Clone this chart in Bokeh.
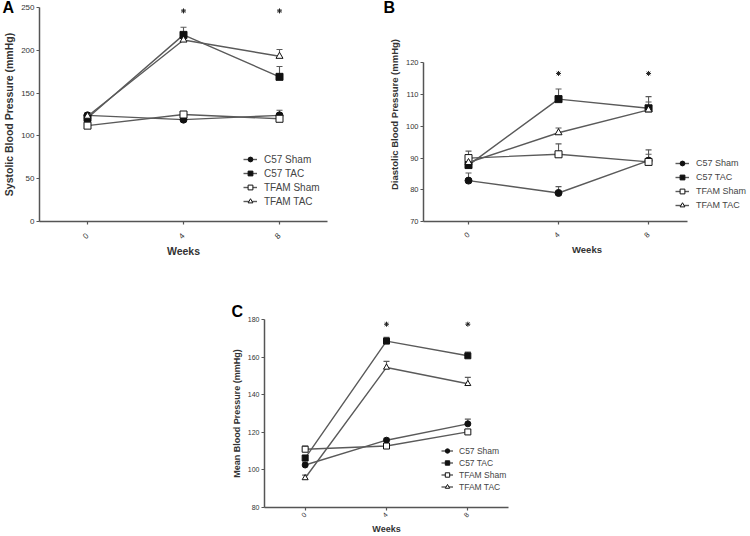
import numpy as np
from bokeh.plotting import figure
from bokeh.models import (ColumnDataSource, Whisker, TeeHead, Legend, LegendItem,
                          FixedTicker, Spacer)
from bokeh.layouts import row, column
from bokeh.embed import file_html
from bokeh.resources import INLINE

# ---------------- data ----------------
weeks = [0, 4, 8]
series_names = ["C57 Sham", "C57 TAC", "TFAM Sham", "TFAM TAC"]
sig_weeks = [4, 8]

# Panel A: systolic
sys_c57_sham = [124, 119, 124]
sys_c57_tac = [121, 218, 169]
sys_tfam_sham = [112, 125, 120]
sys_tfam_tac = [123, 212, 193]
sys_c57_sham_err = [3, 3, 6]
sys_c57_tac_err = [3, 9, 12]
sys_tfam_sham_err = [3, 3, 3]
sys_tfam_tac_err = [3, 4, 8]
sys_star = 246

# Panel B: diastolic
dia_c57_sham = [82.9, 79.0, 89.2]
dia_c57_tac = [87.8, 108.6, 105.7]
dia_tfam_sham = [90.0, 91.2, 88.8]
dia_tfam_tac = [88.6, 98.0, 105.2]
dia_c57_sham_err = [2.4, 2.0, 3.4]
dia_c57_tac_err = [1.5, 3.2, 3.7]
dia_tfam_sham_err = [2.2, 3.3, 2.4]
dia_tfam_tac_err = [1.5, 1.5, 2.5]
dia_star = 116.7

# Panel C: mean
mean_c57_sham = [102.6, 115.8, 124.5]
mean_c57_tac = [106.3, 168.5, 160.7]
mean_tfam_sham = [111.0, 112.7, 120.2]
mean_tfam_tac = [95.7, 154.5, 145.8]
mean_c57_sham_err = [1.5, 1.0, 2.5]
mean_c57_tac_err = [1.5, 2.0, 2.0]
mean_tfam_sham_err = [1.7, 1.0, 1.2]
mean_tfam_tac_err = [1.5, 3.2, 3.4]
mean_star = 177.5

sys_ticks = [0, 50, 100, 150, 200, 250]
dia_ticks = [70, 80, 90, 100, 110, 120]
mean_ticks = [80, 100, 120, 140, 160, 180]

# ---------------- styling ----------------
FONT = "Liberation Sans"
LINE = "#5a5a5a"
AXIS = "#555555"
TEXT = "#333333"
MARK = "#111111"
styles = [
    dict(marker="circle", fill=MARK),
    dict(marker="square", fill=MARK),
    dict(marker="square", fill="white"),
    dict(marker="triangle", fill="white"),
]


def panel(width, height, borders, xr, xb, yr, yb, yticks, ylabel, means, errs, star_y,
          tick_fs, label_fs, tick_standoff, legend_loc, legend_fs,
          glyph_h, spacing, glyph_w, standoff, letter, letter_offset, letter_standoff,
          letter_valign, msize):
    bl, br, bt, bb = borders
    p = figure(width=width, height=height, x_range=xr, y_range=yr,
               output_backend="svg", toolbar_location=None,
               min_border_left=bl, min_border_right=br,
               min_border_top=bt, min_border_bottom=bb)
    p.outline_line_color = None
    p.grid.visible = False
    p.background_fill_color = "white"

    p.title.text = letter
    p.title.align = "left"
    p.title.vertical_align = letter_valign
    p.title.offset = letter_offset
    p.title.standoff = letter_standoff
    p.title.text_font = FONT
    p.title.text_font_size = "16px"
    p.title.text_font_style = "bold"
    p.title.text_color = "#000000"

    p.xaxis.ticker = FixedTicker(ticks=weeks)
    p.yaxis.ticker = FixedTicker(ticks=yticks)
    p.xaxis.bounds = xb
    p.yaxis.bounds = yb
    p.xaxis.major_label_orientation = np.pi / 4
    for ax in (p.xaxis, p.yaxis):
        ax.axis_line_color = AXIS
        ax.axis_line_width = 1.5
        ax.major_tick_line_color = AXIS
        ax.major_tick_line_width = 1.2
        ax.major_tick_in = 0
        ax.major_tick_out = 3
        ax.minor_tick_line_color = None
        ax.major_label_text_font = FONT
        ax.major_label_text_font_size = tick_fs
        ax.major_label_text_color = TEXT
        ax.axis_label_text_font = FONT
        ax.axis_label_text_font_size = label_fs
        ax.axis_label_text_color = TEXT
        ax.axis_label_text_font_style = "bold"
    p.yaxis.major_label_standoff = 2
    p.yaxis.axis_label_standoff = 3
    p.xaxis.major_label_standoff = tick_standoff
    p.xaxis.axis_label_standoff = 1
    p.xaxis.axis_label = "Weeks"
    p.yaxis.axis_label = ylabel

    items = []
    for name, st, m, e in zip(series_names, styles, means, errs):
        src = ColumnDataSource(dict(x=weeks, y=m, upper=[a + b for a, b in zip(m, e)]))
        p.add_layout(Whisker(source=src, base="x", upper="upper", lower="y",
                             line_color=LINE, line_width=1.1,
                             upper_head=TeeHead(size=6, line_color=LINE, line_width=1.1),
                             lower_head=None))
        lr = p.line("x", "y", source=src, line_color=LINE, line_width=1.4)
        sr = p.scatter("x", "y", source=src, marker=st["marker"], size=msize,
                       fill_color=st["fill"], line_color=MARK, line_width=1)
        items.append(LegendItem(label=name, renderers=[lr, sr]))

    p.scatter(x=sig_weeks, y=[star_y] * len(sig_weeks), marker="asterisk", size=5,
              line_color="#222222", line_width=1)

    legend = Legend(items=items, location=legend_loc, orientation="vertical",
                    glyph_width=glyph_w, glyph_height=glyph_h, label_height=glyph_h,
                    spacing=spacing, padding=0, margin=0, label_standoff=standoff,
                    border_line_alpha=0, background_fill_alpha=0,
                    label_text_font=FONT, label_text_font_size=legend_fs,
                    label_text_color="#444444", label_text_baseline="middle")
    p.add_layout(legend)
    return p


# top row: both panels share top/bottom borders (row alignment)
pA = panel(380, 260, (38, 53, 7, 37), (-2, 10), (-2, 10), (0, 250), (0, 250),
           sys_ticks, "Systolic Blood Pressure (mmHg)",
           [sys_c57_sham, sys_c57_tac, sys_tfam_sham, sys_tfam_tac],
           [sys_c57_sham_err, sys_c57_tac_err, sys_tfam_sham_err, sys_tfam_tac_err],
           sys_star, "8px", "10.5px", 10, (204, 14), "10px", 12, 2, 14, 7,
           "A", -37, -26, "middle", 7)

pB = panel(370, 260, (43, 0, 7, 37), (-2, 12.53), (-2, 9.75), (70, 137.5), (70, 120),
           dia_ticks, "Diastolic Blood Pressure (mmHg)",
           [dia_c57_sham, dia_c57_tac, dia_tfam_sham, dia_tfam_tac],
           [dia_c57_sham_err, dia_c57_tac_err, dia_tfam_sham_err, dia_tfam_tac_err],
           dia_star, "7.5px", "9.5px", 9, (252, 10), "9px", 12, 2, 14, 7,
           "B", -40, -30, "middle", 7)

pC = panel(293, 276, (39, 10, 59, 27), (-2, 10), (-2, 10), (80, 180), (80, 180),
           mean_ticks, "Mean Blood Pressure (mmHg)",
           [mean_c57_sham, mean_c57_tac, mean_tfam_sham, mean_tfam_tac],
           [mean_c57_sham_err, mean_c57_tac_err, mean_tfam_sham_err, mean_tfam_tac_err],
           mean_star, "7px", "9px", 3, (177, 15), "8.5px", 11, 1, 12, 6,
           "C", -33, -1, "bottom", 6)

layout = column(row(pA, pB), row(Spacer(width=225, height=276), pC))

with open("out.html", "w") as f:
    f.write(file_html(layout, INLINE))
